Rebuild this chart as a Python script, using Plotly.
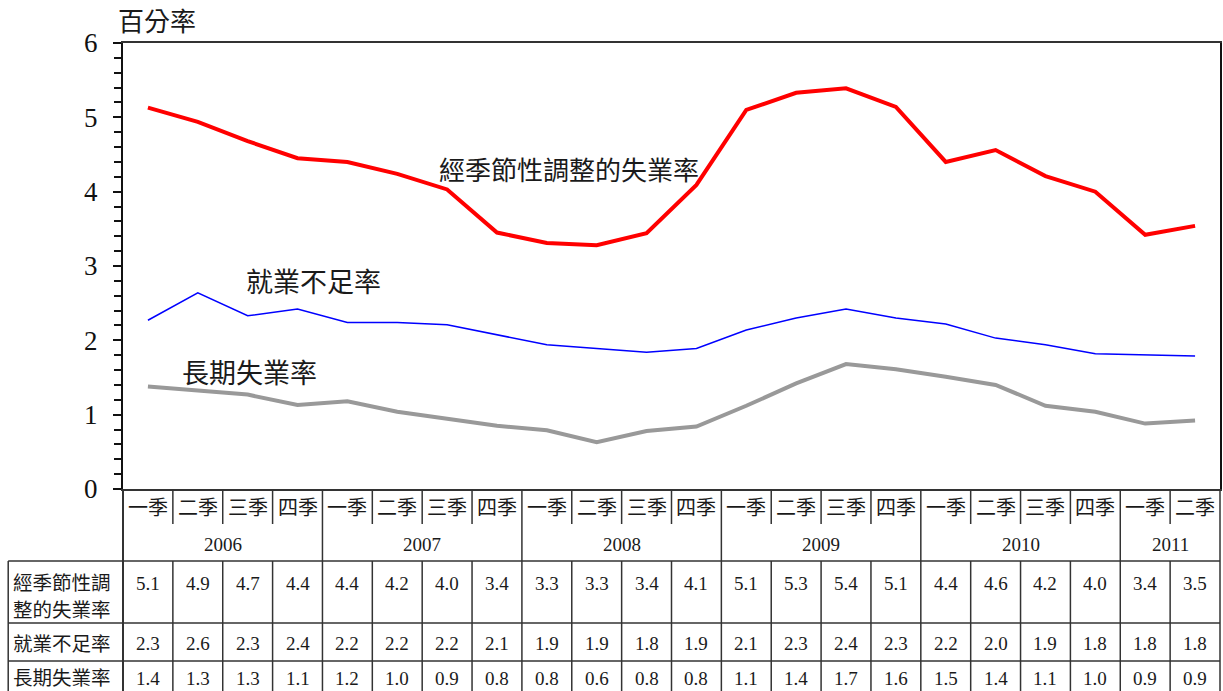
import plotly.graph_objects as go

# ---------------- data ----------------
quarters = ["一季", "二季", "三季", "四季"] * 5 + ["一季", "二季"]
years = ["2006", "2007", "2008", "2009", "2010", "2011"]
year_spans = [4, 4, 4, 4, 4, 2]

sa_unemp = [5.13, 4.94, 4.68, 4.45, 4.40, 4.24, 4.03, 3.45, 3.31, 3.28, 3.44, 4.09,
            5.10, 5.33, 5.39, 5.14, 4.40, 4.56, 4.21, 4.00, 3.42, 3.54]
underemp = [2.27, 2.64, 2.33, 2.42, 2.24, 2.24, 2.21, 2.07, 1.94, 1.89, 1.84, 1.89,
            2.14, 2.30, 2.42, 2.30, 2.22, 2.03, 1.94, 1.82, 1.81, 1.79]
lt_unemp = [1.38, 1.33, 1.27, 1.13, 1.18, 1.04, 0.95, 0.85, 0.79, 0.63, 0.78, 0.84,
            1.12, 1.42, 1.68, 1.61, 1.51, 1.40, 1.12, 1.04, 0.88, 0.92]

tbl_sa = ["5.1", "4.9", "4.7", "4.4", "4.4", "4.2", "4.0", "3.4", "3.3", "3.3", "3.4", "4.1",
          "5.1", "5.3", "5.4", "5.1", "4.4", "4.6", "4.2", "4.0", "3.4", "3.5"]
tbl_under = ["2.3", "2.6", "2.3", "2.4", "2.2", "2.2", "2.2", "2.1", "1.9", "1.9", "1.8", "1.9",
             "2.1", "2.3", "2.4", "2.3", "2.2", "2.0", "1.9", "1.8", "1.8", "1.8"]
tbl_lt = ["1.4", "1.3", "1.3", "1.1", "1.2", "1.0", "0.9", "0.8", "0.8", "0.6", "0.8", "0.8",
          "1.1", "1.4", "1.7", "1.6", "1.5", "1.4", "1.1", "1.0", "0.9", "0.9"]

row_label_1 = ["經季節性調", "整的失業率"]
row_labels = ["就業不足率", "長期失業率"]
series_names = ["經季節性調整的失業率", "就業不足率", "長期失業率"]
y_title = "百分率"

# ---------------- geometry ----------------
W, H = 1223, 691
L, R, T, B = 123, 1, 43, 202
PW = W - L - R
PH = H - T - B
N = len(quarters)

def py(p):  # pixel y -> paper y
    return (H - B - p) / PH

def px(p):  # pixel x -> paper x
    return (p - L) / PW

SERIF = "Liberation Serif, Times New Roman, Noto Sans CJK TC, serif"
CJK = "Noto Sans CJK TC, Liberation Serif, serif"
LC = "#333333"
TC = "#1a1a1a"

fig = go.Figure()
x = list(range(N))
fig.add_trace(go.Scatter(x=x, y=underemp, mode="lines", line=dict(color="#0000FF", width=1.5),
                         name=series_names[1], showlegend=False))
fig.add_trace(go.Scatter(x=x, y=lt_unemp, mode="lines", line=dict(color="#999999", width=4),
                         name=series_names[2], showlegend=False))
fig.add_trace(go.Scatter(x=x, y=sa_unemp, mode="lines", line=dict(color="#FF0000", width=4),
                         name=series_names[0], showlegend=False))

shapes = []
annotations = []

def hline(x0, x1, y):
    shapes.append(dict(type="line", xref="paper", yref="paper", x0=x0, x1=x1, y0=y, y1=y,
                       line=dict(color=LC, width=1.5)))

def vline(xp, y0, y1, w=1.5):
    shapes.append(dict(type="line", xref="paper", yref="paper", x0=xp, x1=xp, y0=y0, y1=y1,
                       line=dict(color=LC, width=w)))

y_top = py(489)
y_q = py(524)
y_r1 = py(561)
y_r2 = py(623)
y_r3 = py(661)
y_bot = py(691)

bounds = [0]
for s in year_spans:
    bounds.append(bounds[-1] + s)

for k in range(0, N + 1):
    xp = k / N
    if k in bounds:
        vline(xp, y_top, y_bot, 2 if k == 0 else 1.5)
    else:
        vline(xp, y_top, y_q)
        vline(xp, y_r1, y_bot)
vline(px(8), y_r1, y_bot)
for yy in (y_r1, y_r2, y_r3):
    hline(px(8), 1, yy)

def ann(xv, xref, yv, text, family, size, xanchor="center"):
    annotations.append(dict(x=xv, xref=xref, y=yv, yref="paper", text=text, showarrow=False,
                            font=dict(family=family, size=size, color=TC),
                            xanchor=xanchor, yanchor="middle"))

# quarter labels
for i, q in enumerate(quarters):
    ann(i, "x", py(507), q, CJK, 20)
# year labels
for j, yr in enumerate(years):
    c = (bounds[j] + bounds[j + 1] - 1) / 2
    ann(c, "x", py(544), yr, SERIF, 19)
# table values
for vals, yc in ((tbl_sa, 583), (tbl_under, 643), (tbl_lt, 678)):
    for i, v in enumerate(vals):
        ann(i, "x", py(yc), v, SERIF, 19)
# row labels
ann(px(11), "paper", py(581), row_label_1[0], CJK, 19.5, "left")
ann(px(11), "paper", py(608), row_label_1[1], CJK, 19.5, "left")
ann(px(11), "paper", py(642), row_labels[0], CJK, 19.5, "left")
ann(px(11), "paper", py(676), row_labels[1], CJK, 19.5, "left")

# series labels inside the chart
ann(px(570), "paper", py(168), series_names[0], CJK, 26)
ann(px(314), "paper", py(280), series_names[1], CJK, 27)
ann(px(250), "paper", py(371), series_names[2], CJK, 27)
# y title
ann(px(157), "paper", py(20), y_title, CJK, 26)

fig.update_layout(
    width=W, height=H,
    margin=dict(l=L, r=R, t=T, b=B, pad=0),
    paper_bgcolor="white", plot_bgcolor="white",
    showlegend=False,
    shapes=shapes, annotations=annotations,
    xaxis=dict(range=[-0.5, N - 0.5], showgrid=False, zeroline=False, showticklabels=False,
               ticks="", showline=True, linecolor=LC, linewidth=1.5, mirror=True, fixedrange=True),
    yaxis=dict(range=[0, 6], dtick=1, showgrid=False, zeroline=False, ticks="outside", ticklen=8,
               tickwidth=1.5, tickcolor="#111", showline=True, linecolor="#111", linewidth=2, mirror=True,
               tickfont=dict(family=SERIF, size=27, color="#111"), ticklabelstandoff=10,
               minor=dict(dtick=0.2, ticks="outside", ticklen=7, tickwidth=1.5, tickcolor="#111", showgrid=False),
               fixedrange=True),
)

fig.write_html("out.html", config={"displayModeBar": False},
               post_script="document.body.style.margin='0px';document.body.style.overflow='hidden';")
